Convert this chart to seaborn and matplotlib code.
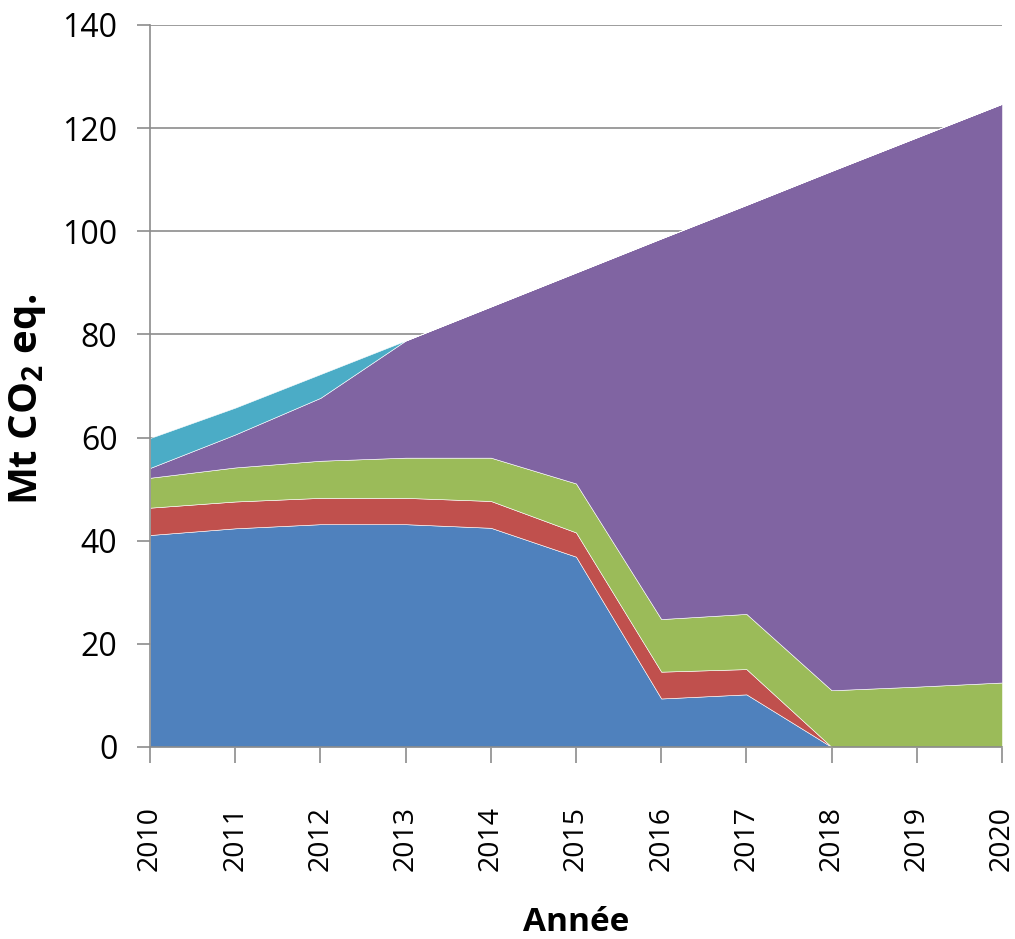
import pandas as pd
import matplotlib
matplotlib.use("Agg")
import matplotlib.pyplot as plt
import seaborn as sns

# Years on the x axis
years = [2010, 2011, 2012, 2013, 2014, 2015, 2016, 2017, 2018, 2019, 2020]

# Layer thicknesses (Mt CO2 eq.), bottom to top
blue = [41.1, 42.4, 43.2, 43.2, 42.5, 36.9, 9.4, 10.2, 0.0, 0.0, 0.0]
red = [5.3, 5.2, 5.1, 5.1, 5.2, 4.7, 5.2, 4.9, 0.0, 0.0, 0.0]
green = [5.8, 6.6, 7.2, 7.8, 8.4, 9.5, 10.2, 10.7, 11.0, 11.7, 12.5]
purple = [1.9, 6.4, 12.2, 22.7, 29.3, 40.9, 73.8, 79.3, 100.7, 106.5, 112.2]
cyan = [5.8, 5.2, 4.6, 0.0, 0.0, 0.0, 0.0, 0.0, 0.0, 0.0, 0.0]

yticks = [0, 20, 40, 60, 80, 100, 120, 140]

df = pd.DataFrame({"annee": years, "blue": blue, "red": red,
                   "green": green, "purple": purple, "cyan": cyan})
layers = ["blue", "red", "green", "purple", "cyan"]
colors = ["#4F81BD", "#C0504D", "#9BBB59", "#8064A2", "#4BACC6"]

sns.set_style("white")
plt.rcParams["font.family"] = ["Open Sans", "DejaVu Sans"]
plt.rcParams["mathtext.fontset"] = "custom"
plt.rcParams["mathtext.rm"] = "Open Sans"
plt.rcParams["mathtext.bf"] = "Open Sans:bold"

fig = plt.figure(figsize=(10.15, 9.39), dpi=100)
ax = fig.add_axes([0.1478, 0.2045, 0.8394, 0.7689])

ax.stackplot(df["annee"], *[df[c] for c in layers], colors=colors,
             edgecolor="white", linewidth=0.4, zorder=2)

ax.set_xlim(years[0], years[-1])
ax.set_ylim(0, 140)
ax.set_xticks(years)
ax.set_xticklabels([str(y) for y in years], rotation=90)
ax.set_yticks(yticks)

ax.yaxis.grid(True, color="#8c8c8c", linewidth=1.2, zorder=1)
ax.xaxis.grid(False)
ax.set_axisbelow(True)

for side in ["top", "right"]:
    ax.spines[side].set_visible(False)
for side in ["left", "bottom"]:
    ax.spines[side].set_color("#8c8c8c")
    ax.spines[side].set_linewidth(1.2)
    ax.spines[side].set_zorder(3)

ax.tick_params(axis="y", length=9.5, width=1.2, color="#8c8c8c",
               labelsize=23, pad=14, left=True, labelcolor="black")
ax.tick_params(axis="x", length=11.5, width=1.2, color="#8c8c8c",
               labelsize=20.5, pad=31, bottom=True, labelcolor="black")

ax.set_ylabel(r"Mt CO$_\mathbf{2}$ eq.", fontsize=29, fontweight="bold",
              color="black")
ax.yaxis.set_label_coords(-0.12, 0.482)
ax.set_xlabel("Année", fontsize=24, fontweight="bold", labelpad=25,
              color="black")

fig.savefig("out.png", dpi=100)
